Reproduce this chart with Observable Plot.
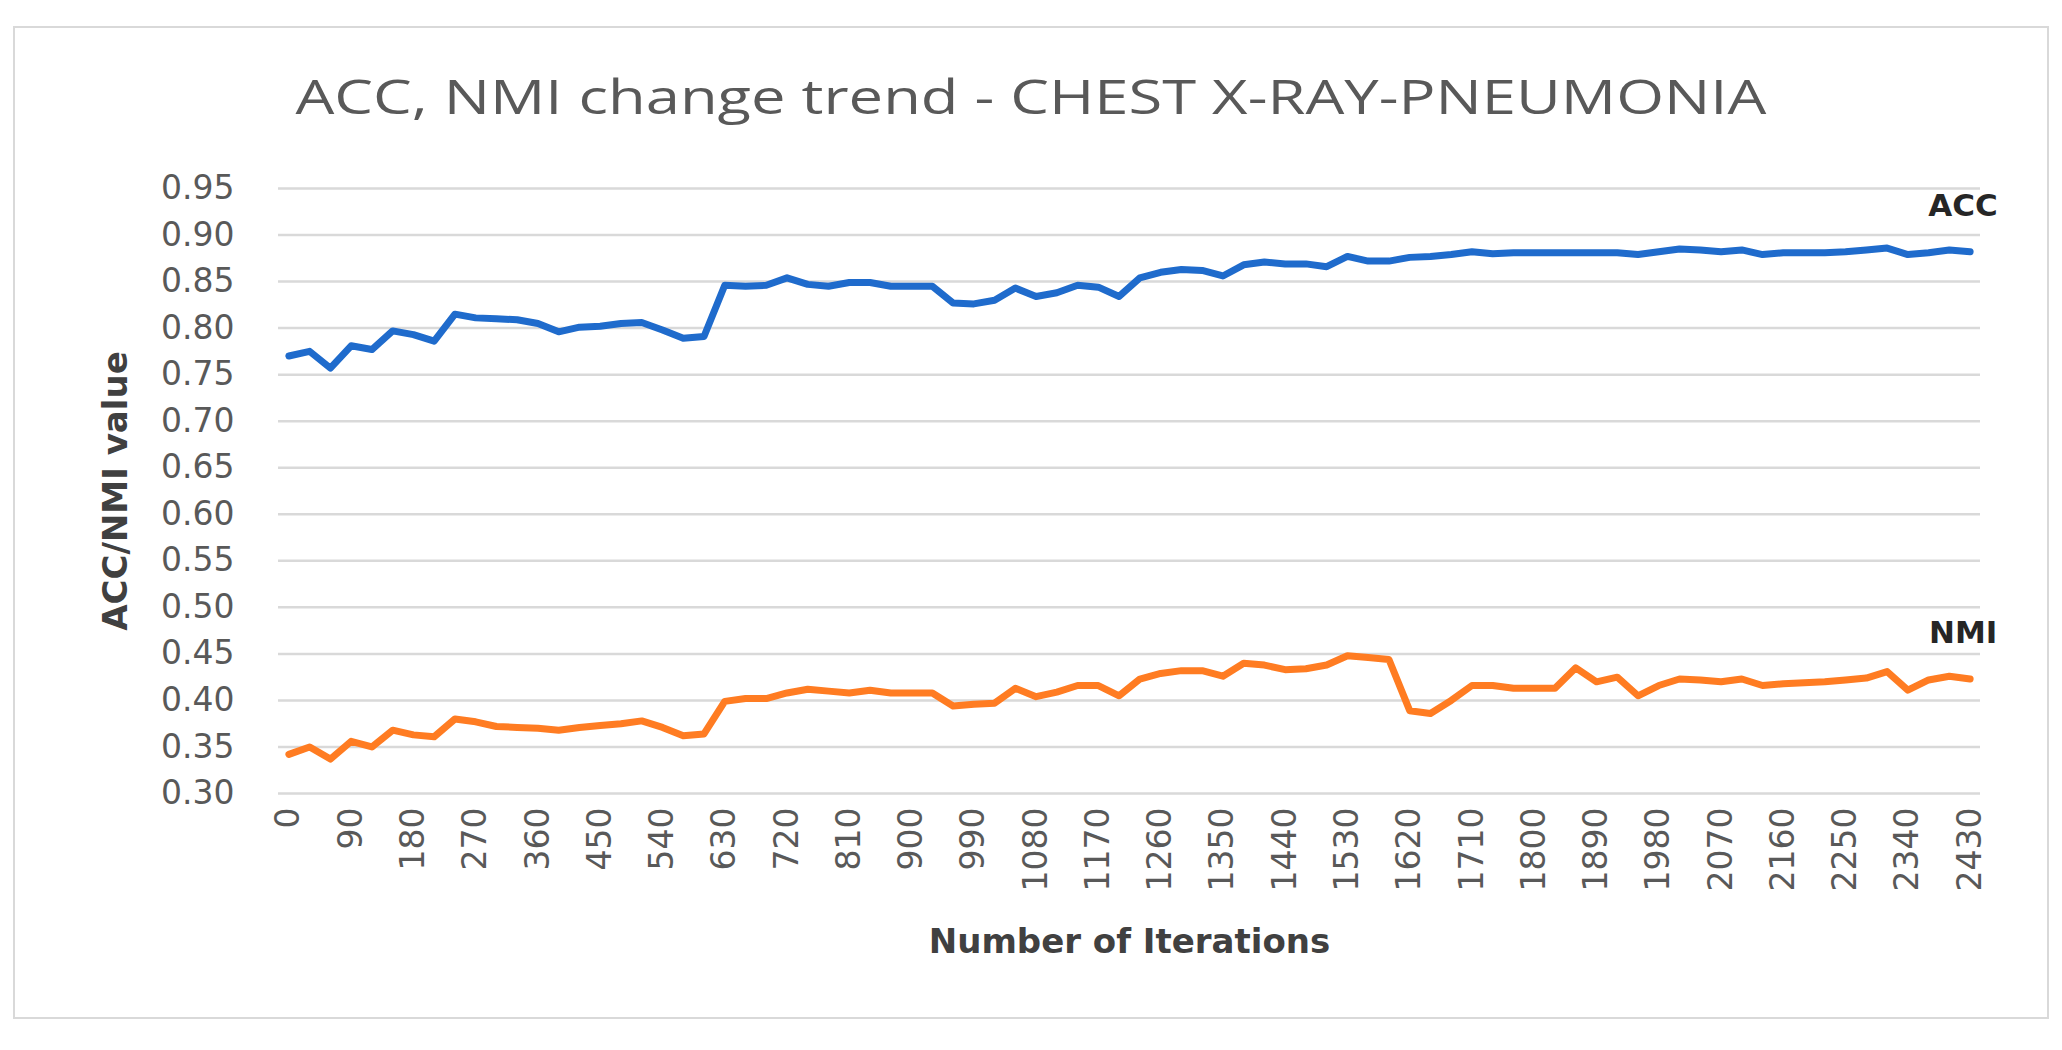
<!DOCTYPE html>
<html>
<head>
<meta charset="utf-8">
<script src="https://cdn.jsdelivr.net/npm/d3@7"></script>
<script src="https://cdn.jsdelivr.net/npm/@observablehq/plot@0.6"></script>
<style>
  html, body { margin: 0; padding: 0; background: #ffffff; width: 2062px; height: 1050px; overflow: hidden; }
  #frame { position: absolute; left: 13px; top: 26px; width: 2036px; height: 993px; box-sizing: border-box; border: 2px solid #d9d9d9; }
  #title { position: absolute; left: 0; width: 2062px; top: 68px; text-align: center; font-family: "Open Sans", sans-serif; font-size: 48px; line-height: 56px; color: #595959; white-space: nowrap; }
  #title span { display: inline-block; transform-origin: center center; }
  #chart { position: absolute; left: 0; top: 140px; }
</style>
</head>
<body>
<div id="frame"></div>
<div id="title"><span id="titleText">ACC, NMI change trend - CHEST X-RAY-PNEUMONIA</span></div>
<div id="chart"></div>
<script>
const iterations = [0,30,60,90,120,150,180,210,240,270,300,330,360,390,420,450,480,510,540,570,600,630,660,690,720,750,780,810,840,870,900,930,960,990,1020,1050,1080,1110,1140,1170,1200,1230,1260,1290,1320,1350,1380,1410,1440,1470,1500,1530,1560,1590,1620,1650,1680,1710,1740,1770,1800,1830,1860,1890,1920,1950,1980,2010,2040,2070,2100,2130,2160,2190,2220,2250,2280,2310,2340,2370,2400,2430];

const accValues = [0.770,0.775,0.757,0.781,0.777,0.797,0.793,0.786,0.815,0.811,0.810,0.809,0.805,0.796,0.801,0.802,0.805,0.806,0.798,0.789,0.791,0.846,0.845,0.846,0.854,0.847,0.845,0.849,0.849,0.845,0.845,0.845,0.827,0.826,0.830,0.843,0.834,0.838,0.846,0.844,0.834,0.854,0.860,0.863,0.862,0.856,0.868,0.871,0.869,0.869,0.866,0.877,0.872,0.872,0.876,0.877,0.879,0.882,0.880,0.881,0.881,0.881,0.881,0.881,0.881,0.879,0.882,0.885,0.884,0.882,0.884,0.879,0.881,0.881,0.881,0.882,0.884,0.886,0.879,0.881,0.884,0.882];

const nmiValues = [0.342,0.350,0.337,0.356,0.350,0.368,0.363,0.361,0.380,0.377,0.372,0.371,0.370,0.368,0.371,0.373,0.375,0.378,0.371,0.362,0.364,0.399,0.402,0.402,0.408,0.412,0.410,0.408,0.411,0.408,0.408,0.408,0.394,0.396,0.397,0.413,0.404,0.409,0.416,0.416,0.405,0.423,0.429,0.432,0.432,0.426,0.440,0.438,0.433,0.434,0.438,0.448,0.446,0.444,0.389,0.386,0.400,0.416,0.416,0.413,0.413,0.413,0.435,0.420,0.425,0.405,0.416,0.423,0.422,0.420,0.423,0.416,0.418,0.419,0.420,0.422,0.424,0.431,0.411,0.422,0.426,0.423];

const xTickValues = [0,90,180,270,360,450,540,630,720,810,900,990,1080,1170,1260,1350,1440,1530,1620,1710,1800,1890,1980,2070,2160,2250,2340,2430];
const yTickValues = [0.30,0.35,0.40,0.45,0.50,0.55,0.60,0.65,0.70,0.75,0.80,0.85,0.90,0.95];

const seriesNames = ["ACC", "NMI"];
const seriesColors = ["#1f6bcc", "#ff7c22"];

const accRows = iterations.map((it, i) => ({iter: it, value: accValues[i], series: "ACC"}));
const nmiRows = iterations.map((it, i) => ({iter: it, value: nmiValues[i], series: "NMI"}));
const lastRows = [accRows[accRows.length - 1], nmiRows[nmiRows.length - 1]];

const font = "'DejaVu Sans', sans-serif";

const chart = Plot.plot({
  width: 2062,
  height: 850,
  marginTop: 48,
  marginBottom: 197,
  marginLeft: 278,
  marginRight: 82,
  x: {domain: [-15, 2445]},
  y: {domain: [0.30, 0.95]},
  color: {domain: seriesNames, range: seriesColors},
  style: {fontFamily: font, fontSize: "33px", color: "#595959", background: "transparent", overflow: "visible"},
  marks: [
    Plot.gridY(yTickValues, {stroke: "#d9d9d9", strokeOpacity: 1, strokeWidth: 2.5}),
    Plot.axisY(yTickValues, {tickSize: 0, tickPadding: 44, tickFormat: d3.format(".2f"), label: null, fill: "#595959"}),
    Plot.axisX(xTickValues, {tickSize: 0, tickRotate: -90, tickPadding: 14, tickFormat: d => String(d), label: null, fill: "#595959"}),
    Plot.line(accRows, {x: "iter", y: "value", stroke: "series", strokeWidth: 7, strokeLinejoin: "round", strokeLinecap: "round"}),
    Plot.line(nmiRows, {x: "iter", y: "value", stroke: "series", strokeWidth: 7, strokeLinejoin: "round", strokeLinecap: "round"}),
    Plot.text(lastRows, {x: "iter", y: "value", text: "series", dy: -46, dx: -7, fontSize: 31, fontWeight: "bold", fill: "#262626", fontFamily: font}),
    Plot.text(["ACC/NMI value"], {frameAnchor: "left", textAnchor: "middle", lineAnchor: "middle", dx: -162, rotate: -90, fontSize: 34, fontWeight: "bold", fill: "#404040", fontFamily: font}),
    Plot.text(["Number of Iterations"], {frameAnchor: "bottom", textAnchor: "middle", lineAnchor: "middle", dy: 149, fontSize: 34, fontWeight: "bold", fill: "#404040", fontFamily: font})
  ]
});
document.getElementById("chart").appendChild(chart);

// stretch the title horizontally to match the reference span width
const t = document.getElementById("titleText");
const w = t.getBoundingClientRect().width;
if (w > 0) t.style.transform = `scaleX(${1471 / w})`;
</script>
</body>
</html>
